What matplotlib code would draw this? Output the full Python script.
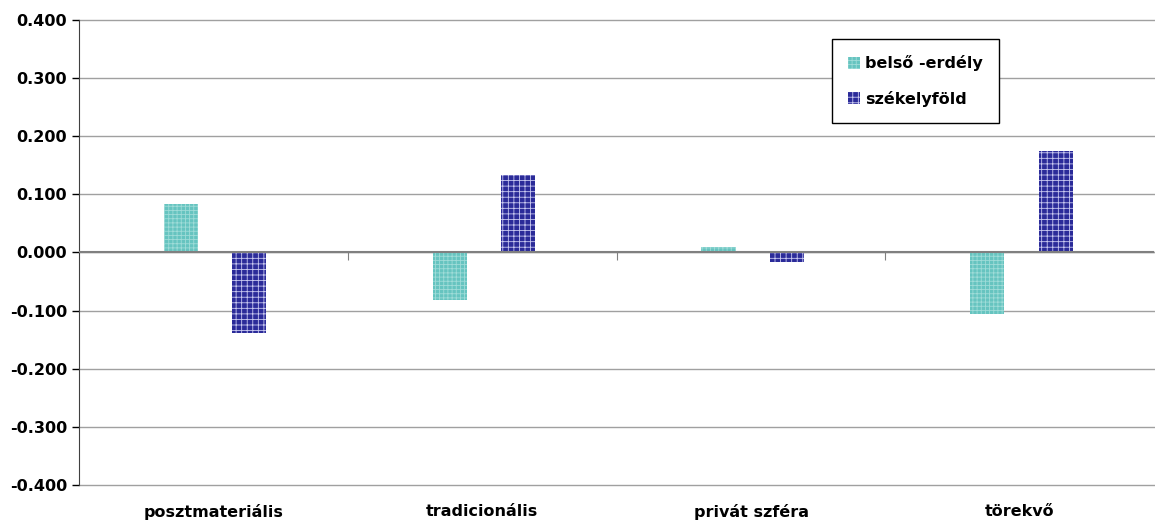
import matplotlib.pyplot as plt
import numpy as np

categories = ['posztmateriális', 'tradicionális', 'privát szféra', 'törekvő']
belso_erdely = [0.083, -0.081, 0.010, -0.105]
szekelyfold = [-0.138, 0.133, -0.017, 0.174]
yticks = [-0.4, -0.3, -0.2, -0.1, 0.0, 0.1, 0.2, 0.3, 0.4]

plt.rcParams['font.family'] = ['DejaVu Sans']
plt.rcParams['hatch.linewidth'] = 0.6

fig = plt.figure(figsize=(11.55, 5.27), dpi=100)
ax = fig.add_axes([0.0684, 0.0797, 0.931, 0.8825])

x = np.arange(len(categories))
w = 0.127
ax.bar(x - w + 0.006, belso_erdely, w, color='#66c4c0', edgecolor='#9fdcd8', hatch='++++',
       linewidth=0, label='belső -erdély', zorder=3)
ax.bar(x + w + 0.006, szekelyfold, w, color='#2b2b99', edgecolor='#c8c8f0', hatch='+++',
       linewidth=0, label='székelyföld', zorder=3)

ax.set_xlim(-0.5, len(categories) - 0.5)
ax.set_ylim(-0.4, 0.4)
ax.set_yticks(yticks)
ax.set_yticklabels(['%.3f' % v for v in yticks], fontsize=11.5, fontweight='bold')
ax.yaxis.grid(True, color='#a0a0a0', linewidth=1, zorder=0)
for gl in ax.get_ygridlines():
    gl.set_clip_on(False)
ax.axhline(0, color='#808080', linewidth=1.5, zorder=4)

ax.set_xticks(x)
ax.set_xticklabels(categories, fontsize=11.5, fontweight='bold')
ax.tick_params(axis='x', length=0, pad=14)
ax.tick_params(axis='y', direction='out', length=5, width=1, color='black')

for s in ['top', 'right', 'bottom']:
    ax.spines[s].set_visible(False)
ax.spines['left'].set_color('#404040')

sec = ax.secondary_xaxis(0.5)
sec.set_xticks(x[:-1] + 0.5)
sec.set_xticklabels([])
sec.tick_params(direction='in', length=6, color='#808080')
sec.spines['bottom'].set_visible(False)

leg = ax.legend(loc='upper left', bbox_to_anchor=(0.70, 0.958), fancybox=False,
                edgecolor='black', framealpha=1, prop={'weight': 'bold', 'size': 11.5},
                handlelength=0.8, handleheight=0.8, handletextpad=0.3,
                labelspacing=1.2, borderpad=1.0, borderaxespad=0)
leg.get_frame().set_linewidth(1)

plt.savefig('out.png')
